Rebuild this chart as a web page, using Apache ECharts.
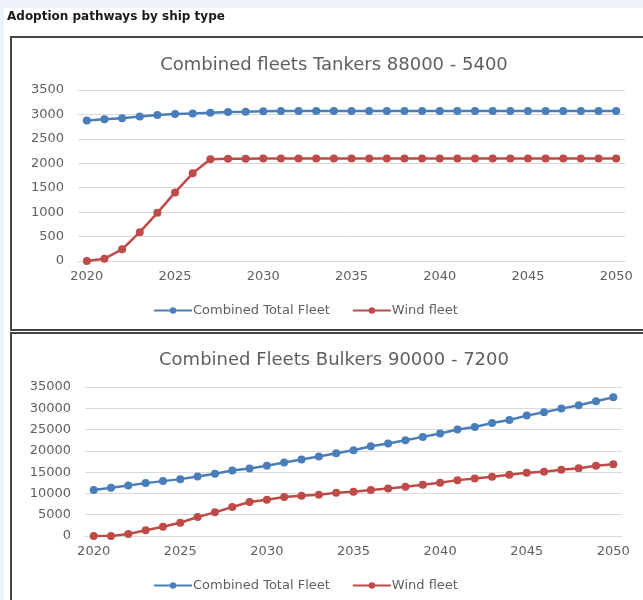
<!DOCTYPE html>
<html>
<head>
<meta charset="utf-8">
<script src="https://cdn.jsdelivr.net/npm/echarts@6/dist/echarts.min.js"></script>
<style>
    html, body {margin: 0; padding: 0; background: #eef3fa;}
    #main {width: 643px; height: 600px;}
</style>
</head>
<body>
<div id="main"></div>
<script>
// 年份（横轴）
var years = ['2020','2021','2022','2023','2024','2025','2026','2027','2028','2029','2030',
    '2031','2032','2033','2034','2035','2036','2037','2038','2039','2040',
    '2041','2042','2043','2044','2045','2046','2047','2048','2049','2050'];

// Tankers
var tankerTotal = [2875, 2903, 2924, 2958, 2986, 3007, 3021, 3035, 3049, 3056, 3066,
    3070, 3070, 3070, 3070, 3070, 3070, 3070, 3070, 3070, 3070,
    3070, 3070, 3070, 3070, 3070, 3070, 3070, 3070, 3070, 3070];
var tankerWind = [0, 48, 240, 590, 986, 1404, 1795, 2082, 2095, 2095, 2098,
    2100, 2100, 2100, 2100, 2100, 2100, 2100, 2100, 2100, 2100,
    2100, 2100, 2100, 2100, 2100, 2100, 2100, 2100, 2100, 2100];

// Bulkers
var bulkerTotal = [10781, 11328, 11875, 12422, 12891, 13359, 13984, 14609, 15391, 15859, 16484,
    17266, 17969, 18672, 19453, 20156, 21094, 21719, 22500, 23281, 24063,
    25000, 25625, 26563, 27266, 28281, 29063, 29922, 30703, 31641, 32578];
var bulkerWind = [0, 0, 470, 1330, 2190, 3125, 4450, 5550, 6800, 7970, 8520,
    9140, 9450, 9690, 10160, 10390, 10780, 11170, 11560, 12030, 12500,
    13125, 13515, 13900, 14375, 14840, 15080, 15550, 15940, 16480, 16875];

var seriesNames = ['Combined Total Fleet', 'Wind fleet'];
var colors = ['#4a7ebb', '#be4b48'];
var txt = '#5f5f5f';
var gridColor = '#d9d9d9';
var font = 'DejaVu Sans';

function xAxisCfg(idx) {
    return {
        type: 'category',
        gridIndex: idx,
        data: years,
        boundaryGap: true,
        axisTick: {show: false},
        axisLine: {lineStyle: {color: gridColor}},
        axisLabel: {color: txt, fontSize: 13, interval: 4, margin: 9, fontFamily: font}
    };
}
function yAxisCfg(idx, max, interval) {
    return {
        type: 'value',
        gridIndex: idx,
        min: 0,
        max: max,
        interval: interval,
        axisLine: {show: false},
        axisTick: {show: false},
        axisLabel: {color: txt, fontSize: 13, margin: 14, fontFamily: font,
            formatter: function (v) { return String(v); }},
        splitLine: {lineStyle: {color: gridColor}}
    };
}
function lineSeries(name, data, idx, color) {
    return {
        name: name,
        type: 'line',
        xAxisIndex: idx,
        yAxisIndex: idx,
        data: data,
        symbol: 'circle',
        symbolSize: 8,
        lineStyle: {color: color, width: 2.5},
        itemStyle: {color: color},
        animation: false
    };
}

var myChart = echarts.init(document.getElementById('main'));
var option = {
    backgroundColor: '#eef3fa',
    color: colors,
    graphic: [
        {type: 'rect', z: -100, silent: true, shape: {x: 4, y: 8, width: 645, height: 600}, style: {fill: '#ffffff'}},
        {type: 'rect', z: -99, silent: true, shape: {x: 11, y: 37, width: 640, height: 293}, style: {fill: '#ffffff', stroke: '#444444', lineWidth: 2}},
        {type: 'rect', z: -99, silent: true, shape: {x: 11, y: 333, width: 640, height: 290}, style: {fill: '#ffffff', stroke: '#444444', lineWidth: 2}},
        {type: 'text', z: 10, left: 7, top: 11, style: {text: 'Adoption pathways by ship type', font: 'bold 12px "DejaVu Sans"', fill: '#1a1a1a'}}
    ],
    title: [
        {text: 'Combined fleets Tankers 88000 - 5400', left: 329, textAlign: 'center', top: 51,
            textStyle: {color: txt, fontSize: 18, fontWeight: 'normal', fontFamily: font}},
        {text: 'Combined Fleets Bulkers 90000 - 7200', left: 329, textAlign: 'center', top: 346,
            textStyle: {color: txt, fontSize: 18, fontWeight: 'normal', fontFamily: font}}
    ],
    legend: [
        {data: seriesNames, top: 299, left: 148, itemWidth: 38, itemHeight: 8, itemGap: 22,
            textStyle: {color: txt, fontSize: 13, fontFamily: font, padding: [0, 0, 0, -4]}},
        {data: seriesNames, top: 574, left: 148, itemWidth: 38, itemHeight: 8, itemGap: 22,
            textStyle: {color: txt, fontSize: 13, fontFamily: font, padding: [0, 0, 0, -4]}}
    ],
    grid: [
        {left: 78, right: 18, top: 90, bottom: 339},
        {left: 85, right: 21, top: 387, bottom: 64}
    ],
    xAxis: [xAxisCfg(0), xAxisCfg(1)],
    yAxis: [yAxisCfg(0, 3500, 500), yAxisCfg(1, 35000, 5000)],
    series: [
        lineSeries(seriesNames[0], tankerTotal, 0, colors[0]),
        lineSeries(seriesNames[1], tankerWind, 0, colors[1]),
        lineSeries(seriesNames[0], bulkerTotal, 1, colors[0]),
        lineSeries(seriesNames[1], bulkerWind, 1, colors[1])
    ]
};
myChart.setOption(option);
</script>
</body>
</html>
